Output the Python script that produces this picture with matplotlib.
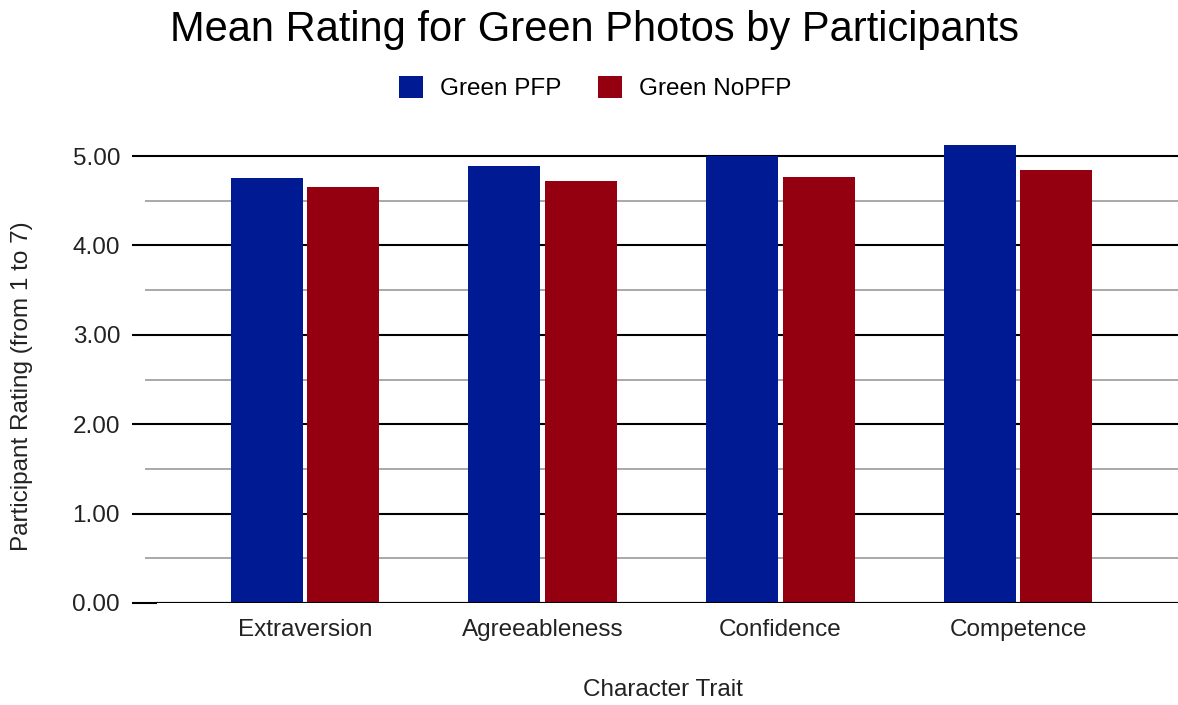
import numpy as np
import matplotlib.pyplot as plt

# data
traits = ['Extraversion', 'Agreeableness', 'Confidence', 'Competence']
green_pfp = [4.75, 4.89, 5.00, 5.12]
green_nopfp = [4.65, 4.72, 4.77, 4.84]
yticks = [0, 1, 2, 3, 4, 5]

plt.rcParams['font.family'] = ['Liberation Sans', 'DejaVu Sans']

fig = plt.figure(figsize=(11.78, 7.05), dpi=100)
ax = fig.add_axes([0.1333, 0.1447, 0.8667, 0.672])

x = np.arange(len(traits))
w = 0.303
off = 0.161
ax.bar(x - off, green_pfp, w, color='#001a93', label='Green PFP', zorder=3)
ax.bar(x + off, green_nopfp, w, color='#950011', label='Green NoPFP', zorder=3)

ax.set_xlim(-0.623, 3.673)
ax.set_ylim(0, 5.3)

# major / minor gridlines like google charts
ax.set_yticks(yticks)
ax.set_yticklabels(['%.2f' % v for v in yticks])
ax.set_yticks(np.arange(0.5, 5, 1), minor=True)
ax.grid(axis='y', which='major', color='black', lw=1.5, zorder=1)
ax.grid(axis='y', which='minor', color='#999999', lw=1.2, zorder=1)
ax.tick_params(axis='y', which='major', length=18, width=1.5, color='black',
               labelsize=17.5, labelcolor='#222222', pad=8.6)
ax.tick_params(axis='y', which='minor', length=8.6, width=1.2, color='#999999')
ax.set_xticks(x)
ax.set_xticklabels(traits)
ax.tick_params(axis='x', length=0, labelsize=17.5, labelcolor='#222222', pad=11.5)
for s in ax.spines.values():
    s.set_visible(False)
ax.axhline(0, color='black', lw=1.5, zorder=4)

fig.text(0.563, 0.0213, 'Character Trait', fontsize=17.5, color='#222222',
         ha='center', va='center')
fig.text(0.019, 0.452, 'Participant Rating (from 1 to 7)', rotation=90,
         fontsize=17.5, color='#222222', ha='center', va='center')

fig.text(0.505, 0.957, 'Mean Rating for Green Photos by Participants',
         fontsize=30, color='black', ha='center', va='center')
ax.legend(loc='center', bbox_to_anchor=(0.429, 1.087), ncol=2, frameon=False,
          fontsize=17.5, handlelength=1.0, handleheight=1.0, columnspacing=1.5,
          handletextpad=0.7)

fig.savefig('out.png', dpi=100)
